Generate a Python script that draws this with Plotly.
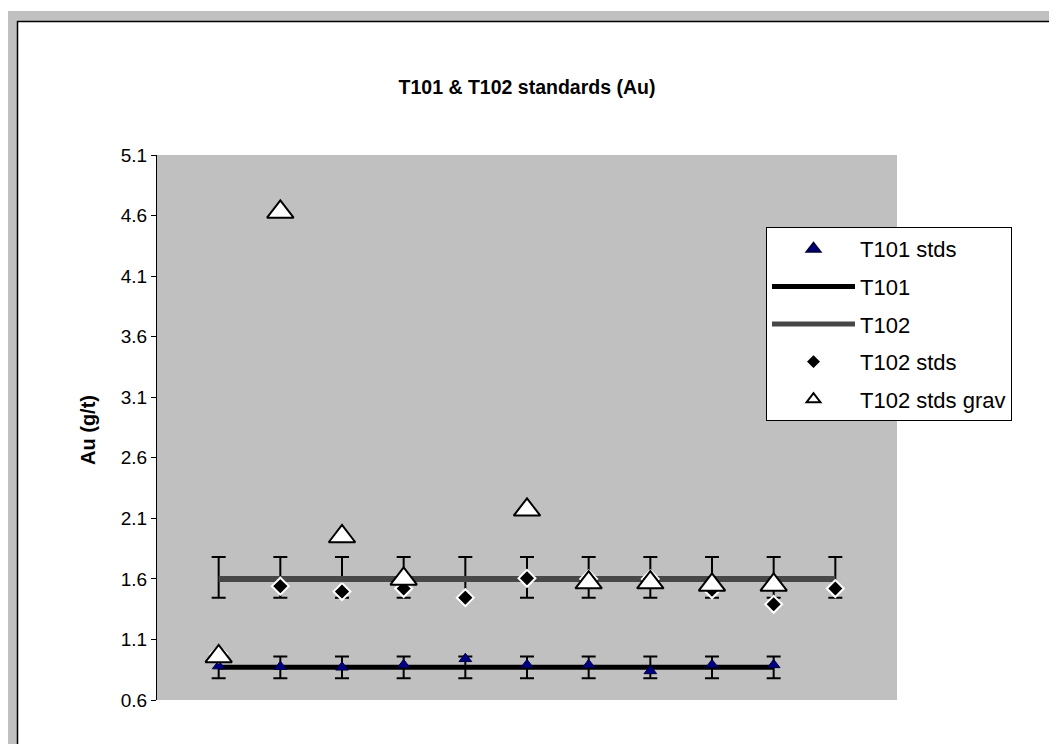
import plotly.graph_objects as go

# ---- data ----
positions = [1, 2, 3, 4, 5, 6, 7, 8, 9, 10, 11]
t101_x = [1, 2, 3, 4, 5, 6, 7, 8, 9, 10]
t101_line = [0.87, 0.87, 0.87, 0.87, 0.87, 0.87, 0.87, 0.87, 0.87, 0.87]
t101_err_plus = [0.09, 0.09, 0.09, 0.09, 0.09, 0.09, 0.09, 0.09, 0.09, 0.09]
t101_err_minus = [0.09, 0.09, 0.09, 0.09, 0.09, 0.09, 0.09, 0.09, 0.09, 0.09]
t102_line = [1.6, 1.6, 1.6, 1.6, 1.6, 1.6, 1.6, 1.6, 1.6, 1.6, 1.6]
t102_err_plus = [0.18, 0.18, 0.18, 0.18, 0.18, 0.18, 0.18, 0.18, 0.18, 0.18, 0.18]
t102_err_minus = [0.155, 0.155, 0.155, 0.155, 0.155, 0.155, 0.155, 0.155, 0.155, 0.155, 0.155]
t101_stds = [0.88, 0.875, 0.87, 0.89, 0.94, 0.89, 0.89, 0.84, 0.89, 0.89]
t102_stds = [0.98, 1.54, 1.495, 1.52, 1.445, 1.605, 1.6, 1.6, 1.51, 1.39, 1.52]
t102_stds_grav = [0.96, 4.63, 1.95, 1.60, None, 2.17, 1.57, 1.57, 1.55, 1.55, None]
y_ticks = [0.6, 1.1, 1.6, 2.1, 2.6, 3.1, 3.6, 4.1, 4.6, 5.1]

FONT = "Liberation Sans, Arial, sans-serif"

fig = go.Figure()

fig.add_trace(go.Scatter(
    x=t101_x, y=t101_line, mode="lines", name="T101",
    line=dict(color="black", width=5),
    error_y=dict(type="data", symmetric=False, array=t101_err_plus,
                 arrayminus=t101_err_minus, color="black", thickness=2, width=7),
    legendrank=2, legendgroup="b"))

fig.add_trace(go.Scatter(
    x=positions, y=t102_line, mode="lines", name="T102",
    line=dict(color="#474747", width=6),
    error_y=dict(type="data", symmetric=False, array=t102_err_plus,
                 arrayminus=t102_err_minus, color="black", thickness=2, width=7),
    legendrank=3, legendgroup="c"))

fig.add_trace(go.Scatter(
    x=t101_x, y=t101_stds, mode="markers", name="T101 stds",
    marker=dict(symbol="triangle-up", size=11, color="#000080",
                line=dict(color="#000040", width=1)),
    legendrank=1, legendgroup="a"))

fig.add_trace(go.Scatter(
    x=positions, y=t102_stds, mode="markers", name="T102 stds",
    marker=dict(symbol="diamond", size=13, color="black",
                line=dict(color="white", width=2)),
    legendrank=4, legendgroup="d"))

fig.add_trace(go.Scatter(
    x=positions, y=t102_stds_grav, mode="markers", name="T102 stds grav",
    marker=dict(symbol="triangle-up", size=23, color="white",
                line=dict(color="black", width=2)),
    legendrank=5, legendgroup="e"))

# The page body has an 8px margin: work in page pixels, convert to figure paper coords
OFF = 8
W, H = 1057 - OFF, 744 - OFF
L, R, T, B = 157 - OFF, 897 - OFF, 155 - OFF, 700 - OFF

def px(x):
    return (x - OFF - L) / (R - L)

def py(y):
    return (B - (y - OFF)) / (B - T)

shapes = [
    dict(type="rect", xref="paper", yref="paper", x0=px(7), x1=px(1070),
         y0=py(21), y1=py(11), fillcolor="#C0C0C0", line=dict(width=0), layer="below"),
    dict(type="rect", xref="paper", yref="paper", x0=px(7), x1=px(17),
         y0=py(760), y1=py(11), fillcolor="#C0C0C0", line=dict(width=0), layer="below"),
    dict(type="line", xref="paper", yref="paper", x0=px(17), x1=px(1070),
         y0=py(21.5), y1=py(21.5), line=dict(color="black", width=1.5)),
    dict(type="line", xref="paper", yref="paper", x0=px(17.5), x1=px(17.5),
         y0=py(760), y1=py(21), line=dict(color="black", width=1.5)),
]

fig.update_layout(
    width=W, height=H,
    margin=dict(l=L, r=W - R, t=T, b=H - B),
    paper_bgcolor="white", plot_bgcolor="#C0C0C0",
    font=dict(family=FONT, color="black"),
    title=dict(text="<b>T101 & T102 standards (Au)</b>", x=0.5, xref="paper",
               xanchor="center", y=1 - (87 - OFF) / H, yanchor="middle",
               font=dict(size=19.5, family=FONT, color="black")),
    xaxis=dict(range=[0, 12], showticklabels=False, ticks="", showgrid=False,
               zeroline=False, showline=False),
    yaxis=dict(range=[0.6, 5.1], tickvals=y_ticks,
               ticktext=[f"{v:.1f}" for v in y_ticks],
               ticks="outside", ticklen=5, tickcolor="black", tickwidth=1,
               showline=True, linecolor="black", linewidth=1,
               showgrid=False, zeroline=False,
               tickfont=dict(size=19, family=FONT, color="black")),
    legend=dict(x=px(766), y=py(227), xanchor="left", yanchor="top",
                bgcolor="white", bordercolor="black", borderwidth=1,
                font=dict(size=22, family=FONT, color="black"),
                itemwidth=83, tracegroupgap=6, traceorder="grouped",
                itemsizing="constant"),
    shapes=shapes,
    annotations=[dict(text="<b>Au (g/t)</b>", textangle=-90, xref="paper", yref="paper",
                      x=px(88), y=py(430), xanchor="center", yanchor="middle",
                      showarrow=False, font=dict(size=20, family=FONT, color="black"))],
)

fig.write_html("out.html")
